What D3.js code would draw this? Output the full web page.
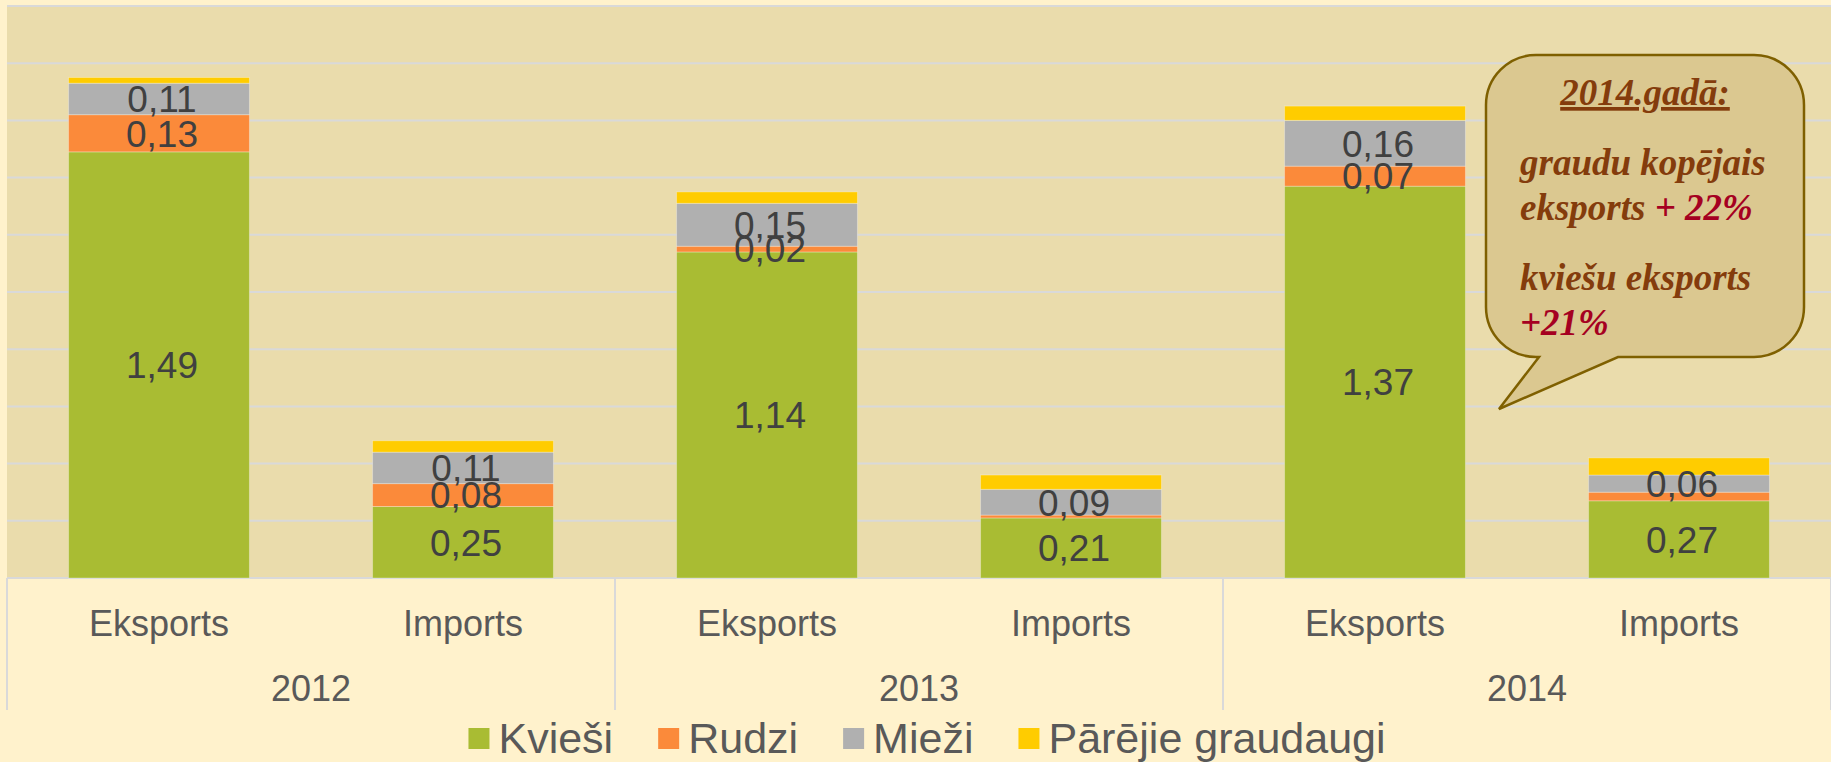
<!DOCTYPE html>
<html>
<head>
<meta charset="utf-8">
<script src="https://cdn.jsdelivr.net/npm/d3@7"></script>
<style>
  html, body { margin: 0; padding: 0; background: #FFF2CC; }
  svg { display: block; }
</style>
</head>
<body>
<div id="chart"></div>
<script>
// categories
var years = ["2012", "2013", "2014"];
var categories = ["2012 Eksports", "2012 Imports", "2013 Eksports", "2013 Imports", "2014 Eksports", "2014 Imports"];

// series (milj. t)
var seriesNames = ["Kvieši", "Rudzi", "Mieži", "Pārējie graudaugi"];
var kviesi  = [1.49, 0.25, 1.14, 0.21, 1.37, 0.27];
var rudzi   = [0.13, 0.08, 0.02, 0.01, 0.07, 0.03];
var miezi   = [0.11, 0.11, 0.15, 0.09, 0.16, 0.06];
var parejie = [0.02, 0.04, 0.04, 0.05, 0.05, 0.06];

// which segments carry a value label
var showKviesi  = [1, 1, 1, 1, 1, 1];
var showRudzi   = [1, 1, 1, 0, 1, 0];
var showMiezi   = [1, 1, 1, 1, 1, 1];
var showParejie = [0, 0, 0, 0, 0, 0];

var yTicks = [0, 0.2, 0.4, 0.6, 0.8, 1.0, 1.2, 1.4, 1.6, 1.8, 2.0];

var noteTitle = "2014.gadā:";
var noteLines = [
  [["graudu kopējais", "#843C0C"]],
  [["eksports ", "#843C0C"], ["+ 22%", "#A50021"]],
  [["kviešu eksports", "#843C0C"]],
  [["+21%", "#A50021"]]
];

var colors = ["#A9BC33", "#FB8A3A", "#B0B0B0", "#FFCC00"];

var width = 1831, height = 762;
var plot = {left: 7, right: 1831, top: 6, bottom: 578};

var svg = d3.select("#chart").append("svg")
    .attr("width", width)
    .attr("height", height);

svg.append("rect")
    .attr("width", width).attr("height", height)
    .attr("fill", "#FFF2CC");

svg.append("rect")
    .attr("x", plot.left).attr("y", plot.top)
    .attr("width", plot.right - plot.left)
    .attr("height", plot.bottom - plot.top)
    .attr("fill", "#EADCAC");

var x = d3.scaleBand()
    .domain(categories)
    .range([plot.left, plot.right])
    .paddingInner(0.405)
    .paddingOuter(0.2025);

var y = d3.scaleLinear()
    .domain([0, 2])
    .range([plot.bottom, plot.top]);

// gridlines
svg.append("g").selectAll("line")
  .data(yTicks)
  .enter().append("line")
    .attr("x1", plot.left).attr("x2", plot.right)
    .attr("y1", function(d) { return y(d); })
    .attr("y2", function(d) { return y(d); })
    .attr("stroke", "#D9D9D9")
    .attr("stroke-width", 2);

// stacked data
var table = categories.map(function(c, i) {
  return {cat: c, "Kvieši": kviesi[i], "Rudzi": rudzi[i], "Mieži": miezi[i], "Pārējie graudaugi": parejie[i]};
});
var shows = [showKviesi, showRudzi, showMiezi, showParejie];
var stack = d3.stack().keys(seriesNames)(table);

var layer = svg.append("g").selectAll("g")
  .data(stack)
  .enter().append("g")
    .attr("fill", function(d, i) { return colors[i]; });

layer.selectAll("rect")
  .data(function(d) { return d; })
  .enter().append("rect")
    .attr("x", function(d) { return x(d.data.cat); })
    .attr("width", x.bandwidth())
    .attr("y", function(d) { return y(d[1]); })
    .attr("height", function(d) { return y(d[0]) - y(d[1]); })
    .attr("stroke", "rgba(255,255,255,0.3)")
    .attr("stroke-width", 1);

var fmt = function(v) { return d3.format(".2f")(v).replace(".", ","); };

var labels = [];
stack.forEach(function(s, si) {
  s.forEach(function(d, i) {
    if (shows[si][i]) labels.push({x: x(d.data.cat) + x.bandwidth() / 2, y: y((d[0] + d[1]) / 2), v: d[1] - d[0]});
  });
});

svg.append("g").selectAll("text")
  .data(labels)
  .enter().append("text")
    .attr("x", function(d) { return d.x + 3; })
    .attr("y", function(d) { return d.y; })
    .attr("dy", "0.36em")
    .attr("text-anchor", "middle")
    .attr("font-family", "Liberation Sans, Arial, sans-serif")
    .attr("font-size", 37)
    .attr("fill", "#404040")
    .text(function(d) { return fmt(d.v); });

// category axis (two levels)
var axisG = svg.append("g");
var sepX = years.map(function(yr, i) { return plot.left + i * 2 * x.step(); }).concat([plot.right]);
axisG.selectAll("line.sep")
  .data(sepX)
  .enter().append("line")
    .attr("class", "sep")
    .attr("x1", function(d) { return d; }).attr("x2", function(d) { return d; })
    .attr("y1", plot.bottom).attr("y2", 710)
    .attr("stroke", "#D9D9D9")
    .attr("stroke-width", 2);

axisG.selectAll("text.flow")
  .data(categories)
  .enter().append("text")
    .attr("class", "flow")
    .attr("x", function(d) { return x(d) + x.bandwidth() / 2; })
    .attr("y", 636)
    .attr("text-anchor", "middle")
    .attr("font-family", "Liberation Sans, Arial, sans-serif")
    .attr("font-size", 36)
    .attr("fill", "#595959")
    .text(function(d) { return d.split(" ")[1]; });

axisG.selectAll("text.year")
  .data(years)
  .enter().append("text")
    .attr("class", "year")
    .attr("x", function(d, i) { return plot.left + (i * 2 + 1) * x.step(); })
    .attr("y", 701)
    .attr("text-anchor", "middle")
    .attr("font-family", "Liberation Sans, Arial, sans-serif")
    .attr("font-size", 36)
    .attr("fill", "#595959")
    .text(function(d) { return d; });

// legend
var legend = svg.append("g");
var items = legend.selectAll("g")
  .data(seriesNames)
  .enter().append("g");
items.append("rect")
    .attr("width", 21).attr("height", 21)
    .attr("y", 728)
    .attr("fill", function(d, i) { return colors[i]; });
items.append("text")
    .attr("x", 30)
    .attr("y", 753)
    .attr("font-family", "Liberation Sans, Arial, sans-serif")
    .attr("font-size", 43)
    .attr("fill", "#595959")
    .text(function(d) { return d; });
var offs = [], cur = 0;
items.each(function() {
  var w = 30 + d3.select(this).select("text").node().getComputedTextLength();
  offs.push(cur);
  cur += w + 45;
});
var legendW = cur - 45;
var lx0 = 927 - legendW / 2;
items.attr("transform", function(d, i) { return "translate(" + (lx0 + offs[i]) + ",0)"; });

// callout
var bx0 = 1486, bx1 = 1804, by0 = 55, by1 = 357, r = 50;
var path = d3.path();
path.moveTo(bx0 + r, by0);
path.lineTo(bx1 - r, by0);
path.arcTo(bx1, by0, bx1, by0 + r, r);
path.lineTo(bx1, by1 - r);
path.arcTo(bx1, by1, bx1 - r, by1, r);
path.lineTo(1618, by1);
path.lineTo(1499, 409);
path.lineTo(1539, by1);
path.lineTo(bx0 + r, by1);
path.arcTo(bx0, by1, bx0, by1 - r, r);
path.lineTo(bx0, by0 + r);
path.arcTo(bx0, by0, bx0 + r, by0, r);
path.closePath();

svg.append("path")
    .attr("d", path.toString())
    .attr("fill", "#DBC890")
    .attr("stroke", "#7F6000")
    .attr("stroke-width", 2.5);

svg.append("text")
    .attr("x", 1645).attr("y", 105)
    .attr("text-anchor", "middle")
    .attr("font-family", "Liberation Serif, Times New Roman, serif")
    .attr("font-style", "italic")
    .attr("font-weight", "bold")
    .attr("font-size", 37)
    .attr("fill", "#843C0C")
    .attr("text-decoration", "underline")
    .text(noteTitle);

var lineY = [175, 220, 290, 335];
noteLines.forEach(function(parts, li) {
  var t = svg.append("text")
      .attr("x", 1520).attr("y", lineY[li])
      .attr("font-family", "Liberation Serif, Times New Roman, serif")
      .attr("font-style", "italic")
      .attr("font-weight", "bold")
      .attr("font-size", 37);
  parts.forEach(function(p) {
    t.append("tspan").attr("fill", p[1]).text(p[0]);
  });
});
</script>
</body>
</html>
